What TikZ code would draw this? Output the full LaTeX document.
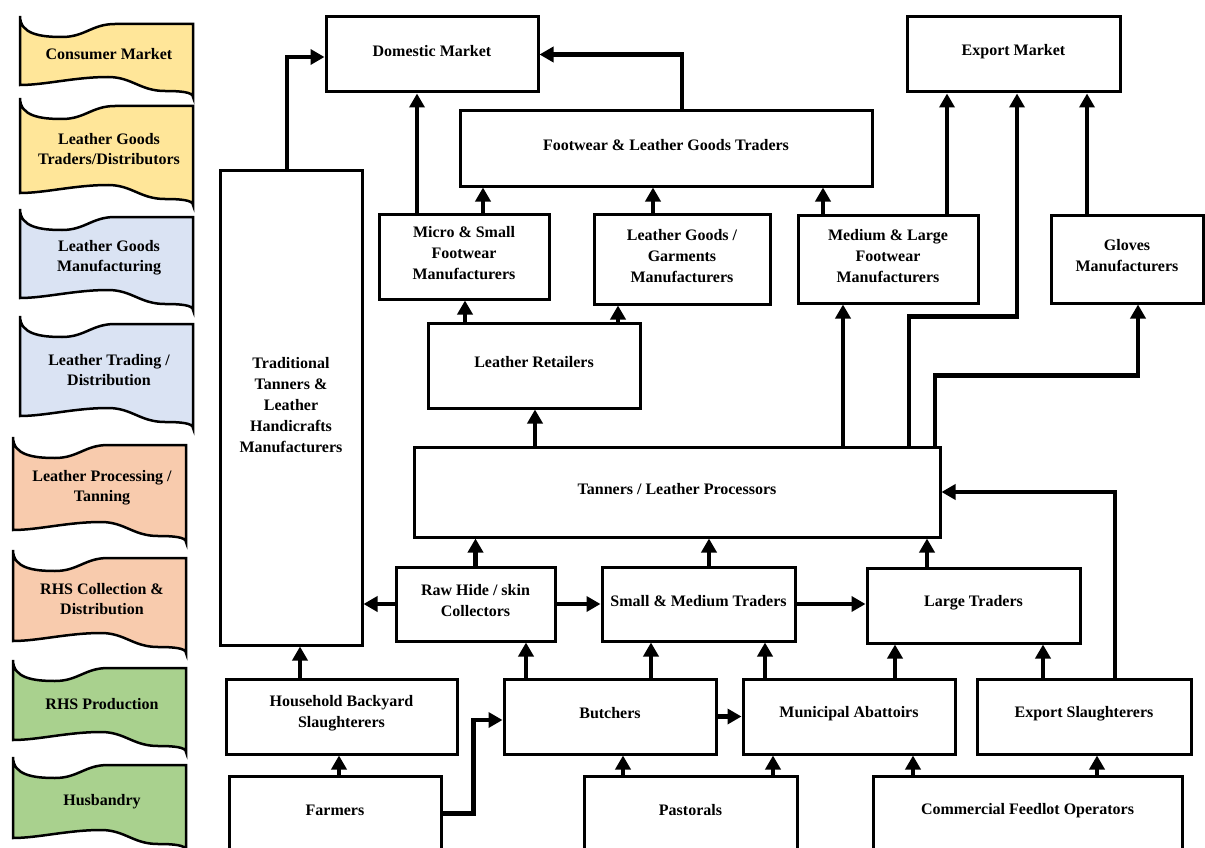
\documentclass[tikz,border=0pt]{standalone}
\usepackage{fontspec}
\setmainfont{Liberation Serif}
\usetikzlibrary{arrows.meta}

\definecolor{banYellow}{HTML}{FFE699}
\definecolor{banBlue}{HTML}{DAE3F3}
\definecolor{banPeach}{HTML}{F8CBAD}
\definecolor{banGreen}{HTML}{A9D18E}

\tikzset{
  box/.style={draw, line width=3pt, rectangle, inner sep=0pt},
  boxtext/.style={align=center, inner sep=0pt, font=\bfseries\fontsize{16}{21}\selectfont},
  link/.style={line width=4.5pt, -{Triangle[width=15pt,length=14pt]}},
  banner/.style={draw, line width=2.5pt},
  bantext/.style={align=center, inner sep=0pt, font=\bfseries\fontsize{16}{20}\selectfont},
}

% actor box: name, centre x, centre y, width, height, text (set a little above centre)
\newcommand\actor[6]{%
  \node[box, minimum width=#4pt, minimum height=#5pt] (#1) at (#2,#3) {};
  \node[boxtext] (#1-text) at ([yshift=3pt]#1.center) {#6};}

% vertical connector leaving the top of #1 at horizontal offset #3, ending on the bottom of #2
\newcommand\vlink[3]{\draw[link] (#1.north) ++(#3,0) coordinate (tmp) -- (tmp |- #2.south);}

% wavy stage banner: left x, top y, height, fill colour, node name, text
\newcommand\wavebanner[6]{%
  \filldraw[banner, fill=#4, shift={(#1,#2)}]
    (0,0) .. controls (0,18) and (20,21) .. (42,21)
          .. controls (65,21) and (72,8) .. (95,8) -- (173,8)
    -- (173,#3) .. controls (173,#3-5) and (160,#3-6) .. (145,#3-6)
          .. controls (120,#3-6) and (112,#3-20) .. (88,#3-20)
          .. controls (55,#3-20) and (25,#3-12) .. (0,#3-12) -- cycle;
  \node[bantext] (#5) at (#1+89,#2+#3/2-2) {#6};}

\begin{document}
\begin{tikzpicture}[x=1pt,y=-1pt]
\useasboundingbox (0,0) rectangle (1205,848);
\clip (0,0) rectangle (1205,848);

% value-chain stages
\wavebanner{20}{16}{81}{banYellow}{sConsumer}{Consumer Market}
\wavebanner{20}{98}{107}{banYellow}{sGoodsTrade}{Leather Goods\\Traders/Distributors}
\wavebanner{20}{209}{101}{banBlue}{sGoodsMfg}{Leather Goods\\Manufacturing}
\wavebanner{20}{316}{112}{banBlue}{sLeatherTrade}{Leather Trading /\\Distribution}
\wavebanner{13}{437}{105}{banPeach}{sTanning}{Leather Processing /\\Tanning}
\wavebanner{13}{550}{103}{banPeach}{sCollection}{RHS Collection \&\\Distribution}
\wavebanner{13}{660}{92}{banGreen}{sProduction}{RHS Production}
\wavebanner{13}{757}{93}{banGreen}{sHusbandry}{Husbandry}

% actors
\actor{dom}{432}{54.5}{212}{75}{Domestic Market}
\actor{exp}{1013.5}{54.5}{213}{75}{Export Market}
\actor{flgt}{666}{148.5}{412}{75}{Footwear \& Leather Goods Traders}
\actor{micro}{464}{256.5}{170}{85}{Micro \& Small\\Footwear\\Manufacturers}
\actor{lgg}{682}{259}{176}{90}{Leather Goods /\\Garments\\Manufacturers}
\actor{mlf}{888}{259}{180}{88}{Medium \& Large\\Footwear\\Manufacturers}
\actor{gloves}{1127}{259}{152}{88}{Gloves\\Manufacturers}
\actor{trad}{291}{408}{142}{474}{Traditional\\Tanners \&\\Leather\\Handicrafts\\Manufacturers}
\actor{lr}{534}{365.5}{212}{85}{Leather Retailers}
\actor{tan}{677}{492}{526}{90}{Tanners / Leather Processors}
\actor{raw}{475.5}{604}{159}{74}{Raw Hide / skin\\Collectors}
\actor{smt}{698.5}{604}{193}{74}{Small \& Medium Traders}
\actor{lt}{973.5}{605.5}{213}{75}{Large Traders}
\actor{hbs}{341.5}{716.5}{231}{75}{Household Backyard\\Slaughterers}
\actor{but}{610}{716.5}{212}{75}{Butchers}
\actor{mun}{849}{716.5}{212}{75}{Municipal Abattoirs}
\actor{exs}{1084}{716.5}{214}{75}{Export Slaughterers}
\actor{farm}{335}{813.5}{212}{75}{Farmers}
\actor{past}{690.5}{813.5}{213}{75}{Pastorals}
\actor{cfo}{1027.5}{813.5}{309}{75}{Commercial Feedlot Operators}

% flows upwards
\vlink{micro}{dom}{-47}
\vlink{micro}{flgt}{19}
\vlink{lgg}{flgt}{-29}
\vlink{mlf}{flgt}{-65}
\vlink{mlf}{exp}{59}
\vlink{gloves}{exp}{-40}
\vlink{lr}{micro}{-69}
\vlink{lr}{lgg}{84}
\vlink{tan}{lr}{-142}
\vlink{tan}{mlf}{166}
\vlink{raw}{tan}{0}
\vlink{smt}{tan}{10.5}
\vlink{lt}{tan}{-46.5}
\vlink{hbs}{trad}{-41.5}
\vlink{but}{raw}{-84}
\vlink{but}{smt}{41}
\vlink{mun}{smt}{-84}
\vlink{mun}{lt}{46}
\vlink{exs}{lt}{-41}
\vlink{farm}{hbs}{4}
\vlink{past}{but}{-67.5}
\vlink{past}{mun}{82.5}
\vlink{cfo}{mun}{-114.5}
\vlink{cfo}{exs}{69.5}

% elbow flows
\draw[link] (flgt.north) ++(16,0) |- (dom.east);
\draw[link] (trad.north) ++(-4,0) |- ([yshift=-2.5pt]dom.west);
\draw[link] (tan.north) ++(232,0) -- ++(0,-129) -| ([xshift=3.5pt]exp.south);
\draw[link] (tan.north) ++(258,0) -- ++(0,-70) -| ([xshift=11pt]gloves.south);
\draw[link, line cap=round] (exs.north) ++(31,0) |- (tan.east);
\draw[link] (farm.east) -- ++(31,0) |- ([yshift=-3.5pt]but.west);

% sideways flows
\draw[link] (raw.west) -- (raw.west -| trad.east);
\draw[link] (raw.east) -- (raw.east -| smt.west);
\draw[link] (smt.east) -- (smt.east -| lt.west);
\draw[link] (but.east) -- (but.east -| mun.west);
\end{tikzpicture}
\end{document}
